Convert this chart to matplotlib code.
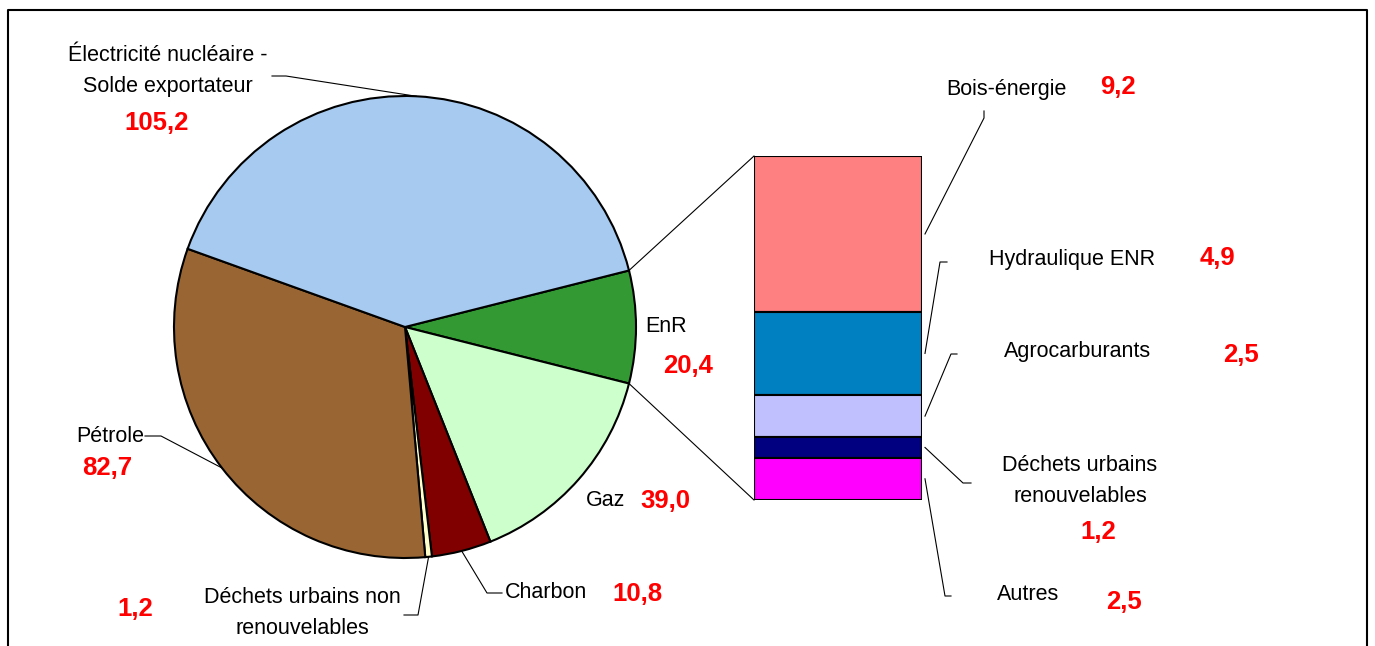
import matplotlib
matplotlib.use("Agg")
import matplotlib.pyplot as plt
import numpy as np

plt.rcParams['font.family'] = ['Liberation Sans', 'DejaVu Sans']

# camembert, dans le sens horaire a partir de la part EnR
pie_labels = ['EnR', 'Gaz', 'Charbon', 'Déchets urbains non\nrenouvelables', 'Pétrole',
              'Électricité nucléaire -\nSolde exportateur']
pie_values = [20.4, 39.0, 10.8, 1.2, 82.7, 105.2]
pie_colors = ['#339933', '#CCFFCC', '#800000', '#FFFFCC', '#996633', '#A6CAF0']

# detail des EnR (barre), de haut en bas
enr_labels = ['Bois-énergie', 'Hydraulique ENR', 'Agrocarburants', 'Déchets urbains\nrenouvelables', 'Autres']
enr_values = [9.2, 4.9, 2.5, 1.2, 2.5]
enr_colors = ['#FF8080', '#0080C0', '#C0C0FF', '#000080', '#FF00FF']

W, H = 1375, 646
fig = plt.figure(figsize=(W / 100, H / 100), dpi=100)

# position du camembert et de la barre (pixels)
cx, cy, r = 405, 327, 231
bx0, bx1, by0, by1 = 754, 922, 156, 500

def fx(x): return x / W
def fy(y): return 1 - y / H

def fmt(v):
    return f"{v:.1f}".replace('.', ',')

total = sum(pie_values)
start = pie_values[0] / total * 180

axp = fig.add_axes([fx(cx - r), fy(cy + r), 2 * r / W, 2 * r / H])
axp.pie(pie_values, colors=pie_colors, startangle=start, counterclock=False,
        wedgeprops=dict(edgecolor='black', linewidth=1.5))
axp.set_xlim(-1, 1)
axp.set_ylim(-1, 1)
axp.set_aspect('auto')

axb = fig.add_axes([fx(bx0), fy(by1), (bx1 - bx0) / W, (by1 - by0) / H])
enr_total = sum(enr_values)
bottoms = enr_total - np.cumsum(enr_values)
axb.bar([0] * len(enr_values), enr_values, bottom=bottoms, width=1, color=enr_colors,
        edgecolor='black', linewidth=1.5)
axb.set_xlim(-0.5, 0.5)
axb.set_ylim(0, enr_total)
axb.axis('off')

# calque pour textes et traits, en pixels
ax = fig.add_axes([0, 0, 1, 1], zorder=5)
ax.set_xlim(0, W)
ax.set_ylim(H, 0)
ax.axis('off')
ax.patch.set_alpha(0)

# cadre
ax.plot([8, 8, 1367, 1367], [H + 5, 10, 10, H + 5], color='black', lw=1.5, clip_on=False)

# liaison camembert -> barre
a = np.deg2rad(start)
ax.plot([cx + r * np.cos(a), bx0], [cy - r * np.sin(a), by0], color='black', lw=0.8)
ax.plot([cx + r * np.cos(a), bx0], [cy + r * np.sin(a), by1], color='black', lw=0.8)

# angles milieu des parts
edges = start - np.concatenate([[0], np.cumsum(pie_values)]) / total * 360
mids = np.deg2rad((edges[:-1] + edges[1:]) / 2)
def pie_pt(i):
    return cx + r * np.cos(mids[i]), cy - r * np.sin(mids[i])

lab_kw = dict(fontsize=15.5, ha='center', va='center', color='black', linespacing=1.65)
val_kw = dict(fontsize=18.5, ha='center', va='center', color='#FF0000', fontweight='bold')

# positions des etiquettes du camembert
pie_lab_pos = [(666, 326), (606, 500), (546, 592), (302, 613), (110, 436), (168, 71)]
pie_val_pos = [(688, 366), (665, 501), (637, 594), (135, 609), (107, 468), (157, 123)]
pie_elbows = [None, None, [(487, 593), (502, 593)], [(418, 615), (404, 615)],
              [(161, 436), (145, 436)], [(286, 76), (272, 76)]]

for i in range(len(pie_values)):
    ax.text(*pie_lab_pos[i], pie_labels[i], **lab_kw)
    ax.text(*pie_val_pos[i], fmt(pie_values[i]), **val_kw)
    if pie_elbows[i]:
        px, py = pie_pt(i)
        xs = [px] + [p[0] for p in pie_elbows[i]]
        ys = [py] + [p[1] for p in pie_elbows[i]]
        ax.plot(xs, ys, color='black', lw=0.8)

# etiquettes de la barre
enr_lab_pos = [(1006, 90), (1072, 260), (1078, 351), (1080, 481), (1028, 595)]
enr_val_pos = [(1118, 87), (1217, 258), (1241, 355), (1098, 532), (1124, 602)]
enr_elbows = [[(984, 118), (984, 111)], [(940, 262), (947, 262)], [(951, 354), (957, 354)],
              [(963, 483), (971, 483)], [(945, 596), (951, 596)]]
seg_mid = by0 + (np.cumsum(enr_values) - np.array(enr_values) / 2) / enr_total * (by1 - by0)

for i in range(len(enr_values)):
    ax.text(*enr_lab_pos[i], enr_labels[i], **lab_kw)
    ax.text(*enr_val_pos[i], fmt(enr_values[i]), **val_kw)
    xs = [bx1 + 3] + [p[0] for p in enr_elbows[i]]
    ys = [seg_mid[i]] + [p[1] for p in enr_elbows[i]]
    ax.plot(xs, ys, color='black', lw=0.8)

fig.savefig('out.png', dpi=100)
